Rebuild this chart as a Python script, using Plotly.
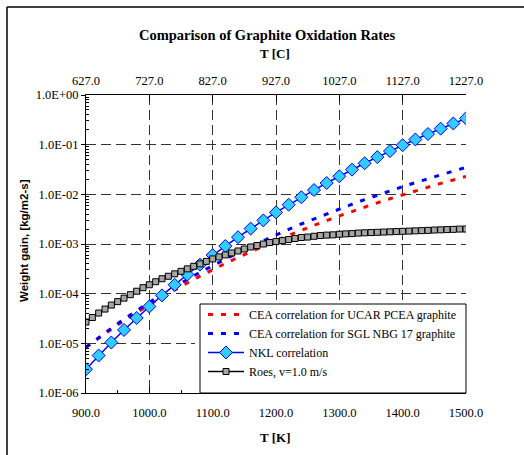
import plotly.graph_objects as go

# Temperature grids [K]
T_NKL = list(range(900, 1501, 20))
T_CEA = list(range(900, 1501, 20))
T_ROES = list(range(900, 1501, 10))

# Weight gain [kg/m2-s]
NKL = [3.01e-6, 5.68e-6, 1.04e-5, 1.86e-5, 3.24e-5, 5.52e-5, 9.22e-5, 1.51e-4,
       2.43e-4, 3.84e-4, 5.96e-4, 9.10e-4, 1.37e-3, 2.04e-3, 2.99e-3, 4.33e-3,
       6.18e-3, 8.73e-3, 1.22e-2, 1.69e-2, 2.31e-2, 3.14e-2, 4.22e-2, 5.62e-2,
       7.43e-2, 9.75e-2, 0.127, 0.164, 0.210, 0.267, 0.339]

CEA_UCAR = [8.32e-6, 1.28e-5, 1.93e-5, 2.86e-5, 4.19e-5, 6.03e-5, 8.55e-5, 1.20e-4,
            1.65e-4, 2.25e-4, 3.05e-4, 4.06e-4, 5.38e-4, 7.05e-4, 9.14e-4, 1.17e-3,
            1.50e-3, 1.90e-3, 2.38e-3, 2.97e-3, 3.68e-3, 4.53e-3, 5.55e-3, 6.75e-3,
            8.15e-3, 9.79e-3, 1.17e-2, 1.40e-2, 1.66e-2, 1.95e-2, 2.29e-2]

CEA_SGL = [8.32e-6, 1.31e-5, 2.02e-5, 3.06e-5, 4.56e-5, 6.70e-5, 9.66e-5, 1.38e-4,
           1.94e-4, 2.69e-4, 3.68e-4, 5.00e-4, 6.70e-4, 8.91e-4, 1.17e-3, 1.53e-3,
           1.97e-3, 2.53e-3, 3.21e-3, 4.06e-3, 5.08e-3, 6.32e-3, 7.82e-3, 9.62e-3,
           1.17e-2, 1.43e-2, 1.72e-2, 2.07e-2, 2.47e-2, 2.94e-2, 3.48e-2]

ROES = [2.69e-5, 3.31e-5, 4.07e-5, 4.90e-5, 5.89e-5, 6.92e-5, 8.13e-5, 9.55e-5,
        1.12e-4, 1.32e-4, 1.51e-4, 1.74e-4, 2.00e-4, 2.24e-4, 2.51e-4, 2.82e-4,
        3.16e-4, 3.55e-4, 3.98e-4, 4.47e-4, 5.01e-4, 5.50e-4, 6.03e-4, 6.61e-4,
        7.24e-4, 7.94e-4, 8.71e-4, 9.33e-4, 1.00e-3, 1.07e-3, 1.12e-3, 1.17e-3,
        1.23e-3, 1.29e-3, 1.35e-3, 1.38e-3, 1.43e-3, 1.48e-3, 1.51e-3, 1.53e-3,
        1.57e-3, 1.60e-3, 1.62e-3, 1.66e-3, 1.68e-3, 1.70e-3, 1.72e-3, 1.74e-3,
        1.76e-3, 1.78e-3, 1.80e-3, 1.82e-3, 1.84e-3, 1.86e-3, 1.88e-3, 1.91e-3,
        1.93e-3, 1.95e-3, 1.97e-3, 2.00e-3, 2.00e-3]

# Axis ticks
X_TICKS_K = [900, 1000, 1100, 1200, 1300, 1400, 1500]
X_LABELS_K = ["900.0", "1000.0", "1100.0", "1200.0", "1300.0", "1400.0", "1500.0"]
X_TICKS_C = [627, 727, 827, 927, 1027, 1127, 1227]
X_LABELS_C = ["627.0", "727.0", "827.0", "927.0", "1027.0", "1127.0", "1227.0"]
Y_TICKS = [1e-6, 1e-5, 1e-4, 1e-3, 1e-2, 1e-1, 1e0]
Y_LABELS = ["1.0E-06", "1.0E-05", "1.0E-04", "1.0E-03", "1.0E-02", "1.0E-01", "1.0E+00"]

SERIF = "Liberation Serif"
SANS = "Liberation Sans"

# plot area in pixels
L, R, T, B = 86, 58, 95, 62
W, H = 524, 455
PW, PH = W - L - R, H - T - B


def px(x):
    return (x - L) / PW


def py(y):
    return (H - B - y) / PH


fig = go.Figure()

fig.add_trace(go.Scatter(
    x=T_CEA, y=CEA_UCAR, mode="lines",
    name="CEA correlation for UCAR PCEA graphite",
    line=dict(color="#FF0000", width=3, dash="5px,8px"),
))
fig.add_trace(go.Scatter(
    x=T_CEA, y=CEA_SGL, mode="lines",
    name="CEA correlation for SGL NBG 17 graphite",
    line=dict(color="#0000FF", width=3, dash="5px,8px"),
))
fig.add_trace(go.Scatter(
    x=T_NKL, y=NKL, mode="lines+markers",
    name="NKL correlation",
    line=dict(color="#0000FF", width=1.5),
    marker=dict(symbol="diamond", size=10, color="#33CCFF",
                line=dict(color="#0000FF", width=1)),
))
fig.add_trace(go.Scatter(
    x=T_ROES, y=ROES, mode="lines+markers",
    name="Roes, v=1.0 m/s",
    line=dict(color="#000000", width=1.5),
    marker=dict(symbol="square", size=6, color="#A6A6A6",
                line=dict(color="#000000", width=1)),
))
# Celsius scale along the top edge
fig.add_trace(go.Scatter(
    x=[X_TICKS_C[0], X_TICKS_C[-1]], y=[None, None], xaxis="x2", yaxis="y",
    mode="lines", showlegend=False, hoverinfo="skip",
))

grid = dict(showgrid=True, gridcolor="#333333", gridwidth=1, griddash="10px,5px")
tickfont = dict(family=SERIF, size=12.5, color="black")

fig.update_layout(
    width=W, height=H,
    margin=dict(l=L, r=R, t=T, b=B),
    paper_bgcolor="white", plot_bgcolor="white",
    showlegend=True,
    legend=dict(
        x=px(203), y=py(300), xanchor="left", yanchor="top",
        bgcolor="rgba(0,0,0,0)", borderwidth=0,
        font=dict(family=SERIF, size=12, color="black"),
        tracegroupgap=0, itemwidth=36,
    ),
    xaxis=dict(
        type="linear", range=[900, 1500],
        tickmode="array", tickvals=X_TICKS_K, ticktext=X_LABELS_K,
        ticks="inside", ticklen=6, tickcolor="black", tickwidth=1,
        tickfont=tickfont, ticklabelstandoff=8,
        showline=True, linecolor="black", linewidth=1, mirror=False,
        minor=dict(ticks="inside", ticklen=3, dtick=50, tick0=900,
                   tickcolor="black", showgrid=False),
        zeroline=False,
        **grid,
    ),
    xaxis2=dict(
        overlaying="x", side="top", anchor="y",
        range=[X_TICKS_C[0], X_TICKS_C[-1]],
        tickmode="array", tickvals=X_TICKS_C, ticktext=X_LABELS_C,
        ticks="inside", ticklen=6, tickcolor="black", tickwidth=1,
        tickfont=tickfont, ticklabelstandoff=4,
        showline=True, linecolor="black", linewidth=1,
        showgrid=False, zeroline=False,
    ),
    yaxis=dict(
        type="log", range=[-6, 0],
        tickmode="array", tickvals=Y_TICKS, ticktext=Y_LABELS,
        ticks="outside", ticklen=4, tickcolor="black", tickwidth=1,
        tickfont=tickfont,
        showline=True, linecolor="black", linewidth=1, mirror=False,
        minor=dict(ticks="inside", ticklen=3, tickcolor="black", showgrid=False,
                   tickvals=[m * 10.0 ** e for e in range(-6, 0) for m in range(2, 10)]),
        zeroline=False,
        **grid,
    ),
    shapes=[
        # legend box
        dict(type="rect", xref="paper", yref="paper", layer="above",
             x0=px(195), x1=px(466), y0=0, y1=py(304),
             fillcolor="white", line=dict(width=0)),
        dict(type="rect", xref="paper", yref="paper", layer="above",
             x0=px(200), x1=px(466), y0=0, y1=py(304),
             fillcolor="white", line=dict(color="black", width=1)),
        # outer frame
        dict(type="line", xref="paper", yref="paper", layer="above",
             x0=px(7), x1=px(530), y0=py(7), y1=py(7),
             line=dict(color="black", width=1.5)),
        dict(type="line", xref="paper", yref="paper", layer="above",
             x0=px(7), x1=px(7), y0=py(7), y1=py(460),
             line=dict(color="black", width=1.5)),
    ],
    annotations=[
        dict(text="<b>Comparison of Graphite Oxidation Rates</b>",
             xref="paper", yref="paper", x=px(267), y=py(35),
             xanchor="center", yanchor="middle", showarrow=False,
             font=dict(family=SERIF, size=14.5, color="black")),
        dict(text="<b>T [C]</b>",
             xref="paper", yref="paper", x=px(275), y=py(53),
             xanchor="center", yanchor="middle", showarrow=False,
             font=dict(family=SERIF, size=13, color="black")),
        dict(text="<b>T [K]</b>",
             xref="paper", yref="paper", x=px(275), y=py(437),
             xanchor="center", yanchor="middle", showarrow=False,
             font=dict(family=SERIF, size=13, color="black")),
        dict(text="<b>Weight gain, [kg/m2-s]</b>",
             xref="paper", yref="paper", x=px(24), y=py(241),
             xanchor="center", yanchor="middle", showarrow=False, textangle=-90,
             font=dict(family=SANS, size=11.5, color="black")),
    ],
)

fig.write_html("out.html")
